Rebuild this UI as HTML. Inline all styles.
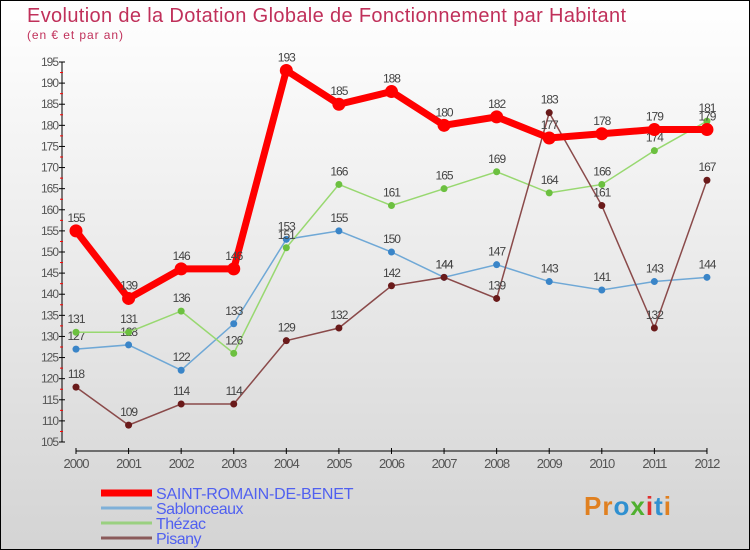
<!DOCTYPE html>
<html><head><meta charset="utf-8"><style>
body{margin:0}
#c{width:748px;height:548px;border:1px solid #000;background:linear-gradient(#fff,#d4d4d4);position:relative;font-family:"Liberation Sans",sans-serif}
</style></head><body>
<div id="c">
<svg id="s" width="748" height="548" style="position:absolute;left:0;top:0">
<text x="26" y="21" font-size="20" fill="#c0305a" textLength="599" lengthAdjust="spacing">Evolution de la Dotation Globale de Fonctionnement par Habitant</text>
<text x="26" y="38" font-size="12" fill="#c0305a" textLength="96" lengthAdjust="spacing">(en € et par an)</text>
<g id="g"></g>
</svg>
<div style="position:absolute;left:583px;top:490px;font-size:26px;font-weight:bold;letter-spacing:1px"><span style="color:#e08020">Pr</span><span style="color:#3090d0">o</span><span style="color:#50b030">x</span><span style="color:#e03030">i</span><span style="color:#3090d0">t</span><span style="color:#e08020">i</span></div>
</div>
<script>
const years=["2000","2001","2002","2003","2004","2005","2006","2007","2008","2009","2010","2011","2012"];
const yTicks=[105,110,115,120,125,130,135,140,145,150,155,160,165,170,175,180,185,190,195];
const saint=[155,139,146,146,193,185,188,180,182,177,178,179,179];
const sablonceaux=[127,128,122,133,153,155,150,144,147,143,141,143,144];
const thezac=[131,131,136,126,151,166,161,165,169,164,166,174,181];
const pisany=[118,109,114,114,129,132,142,144,139,183,161,132,167];
const NS="http://www.w3.org/2000/svg";
const g=document.getElementById('g');
const X=i=>75+i*52.58, Y=v=>441-(v-105)*380/90;
function mk(t,a,txt){const e=document.createElementNS(NS,t);for(const k in a)e.setAttribute(k,a[k]);if(txt!==undefined)e.textContent=txt;g.appendChild(e);return e;}
let e=mk('line',{x1:61,y1:Y(195),x2:61,y2:441,stroke:'#000'});

yTicks.forEach(v=>{let t=mk('line',{x1:58,x2:64,y1:Y(v),y2:Y(v),stroke:'#000'});

let m=mk('line',{x1:59,x2:62,y1:Y(v+2.5),y2:Y(v+2.5),stroke:'#f00'});
if(v==195)m.remove();else{}
let l=mk('text',{x:57,y:Y(v)+4,'font-size':12,fill:'#555','text-anchor':'end','letter-spacing':'-1'},v);
});
e=mk('line',{x1:75,y1:450,x2:706,y2:450,stroke:'#000'});

years.forEach((y,i)=>{let t=mk('line',{x1:X(i),x2:X(i),y1:447,y2:453,stroke:'#000'});

let l=mk('text',{x:X(i),y:467,'font-size':13,fill:'#555','text-anchor':'middle','letter-spacing':'-1'},y);
});
const series=[
{n:'sablonceaux',d:sablonceaux,c:'#6fa8d6',p:'#3a85c8',w:1.5,r:3.5},
{n:'thezac',d:thezac,c:'#98d870',p:'#6cc040',w:1.5,r:3.5},
{n:'pisany',d:pisany,c:'#8a4a4a',p:'#6a1a1a',w:1.5,r:3.5},
{n:'saint-romain',d:saint,c:'#f00',p:'#f00',w:7,r:6.5}];
series.forEach(s=>{let l=mk('polyline',{points:s.d.map((v,i)=>X(i)+','+Y(v)).join(' '),fill:'none',stroke:s.c,'stroke-width':s.w});

s.d.forEach((v,i)=>{let c=mk('circle',{cx:X(i),cy:Y(v),r:s.r,fill:s.p});

let t=mk('text',{x:X(i),y:Y(v)-9,'font-size':12,fill:'#444','text-anchor':'middle','letter-spacing':'-1'},v);
});});
const leg=[['SAINT-ROMAIN-DE-BENET','#f00',7,197],['Sablonceaux','#7fb0d8',3,0],['Thézac','#9ad080',3,0],['Pisany','#8a5a5a',3,0]];
leg.forEach((L,i)=>{const y=492+i*15;
let l=mk('line',{x1:100,x2:151,y1:y,y2:y,stroke:L[1],'stroke-width':L[2]});

const a={x:155,y:y+6,'font-size':16,fill:'#5060f0','letter-spacing':'-0.5'};
if(L[3])a.textLength=L[3];
let t=mk('text',a,L[0]);
});
</script>
</body></html>
